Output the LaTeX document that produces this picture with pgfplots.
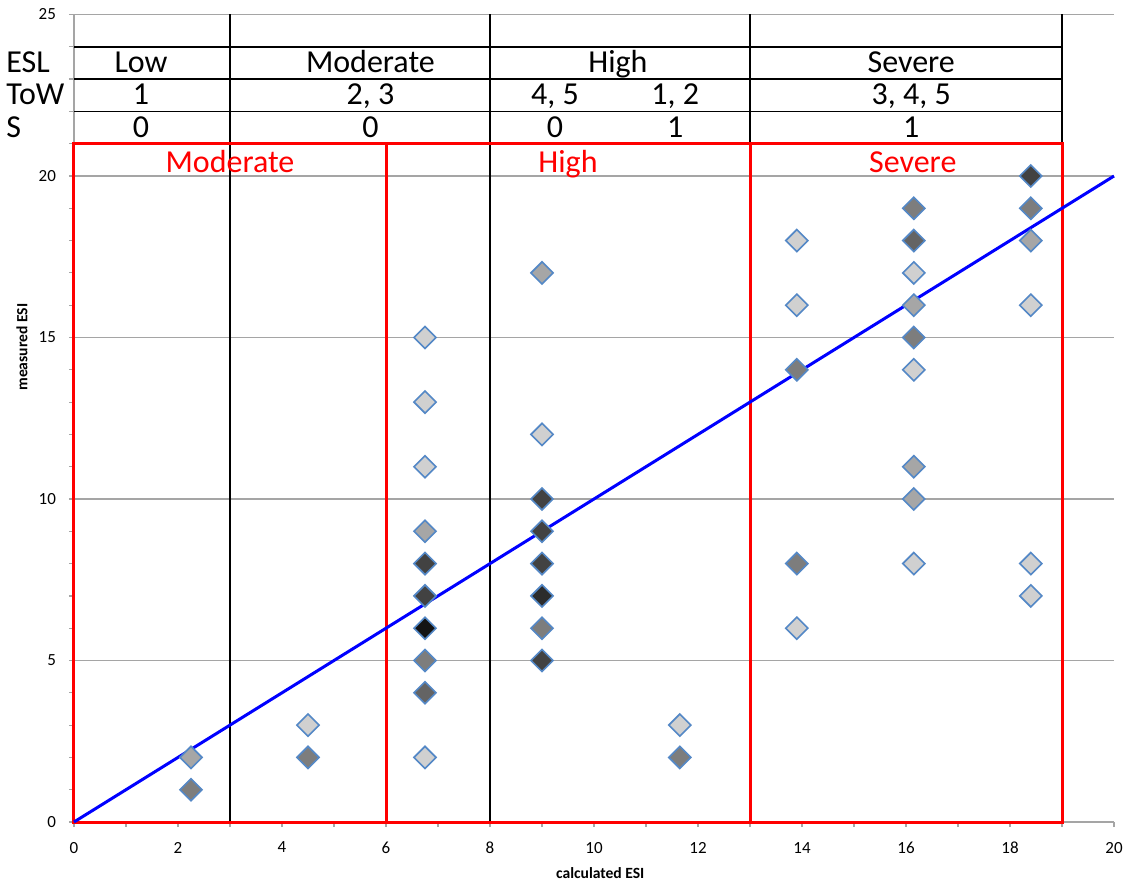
\documentclass[border=0pt]{standalone}
\usepackage{pgfplots}
\pgfplotsset{compat=1.18}
\usepackage{fontspec}
\setmainfont{Carlito}
\definecolor{mkedge}{RGB}{84,136,198}
\definecolor{gridgray}{RGB}{165,165,165}
\definecolor{Lone}{RGB}{208,208,208}
\definecolor{Ltwo}{RGB}{166,166,166}
\definecolor{Lthree}{RGB}{125,125,125}
\definecolor{Lfour}{RGB}{100,100,100}
\definecolor{Lfive}{RGB}{66,66,66}
\definecolor{Lsix}{RGB}{44,44,44}
\definecolor{Lseven}{RGB}{20,20,20}
\newcommand{\tbfont}{\fontsize{16}{18}\selectfont}
\begin{document}
\begin{tikzpicture}
\begin{axis}[name=ax,
  scale only axis, width=520pt, height=403.75pt,
  xmin=0, xmax=20, ymin=0, ymax=25,
  xtick={0,2,...,20}, ytick={0,5,...,25},
  minor x tick num=1, minor y tick num=4,
  tick align=outside, major tick length=2.5pt, minor tick length=2.5pt,
  tick style={gridgray, line width=0.6pt},
  axis x line*=bottom, axis y line*=left,
  axis line style={gridgray, line width=0.8pt, -},
  ymajorgrids, grid style={gridgray, line width=0.8pt},
  /pgf/number format/assume math mode=true,
  ticklabel style={font=\fontsize{8.5}{10}\selectfont, text=black},
  xticklabel style={yshift=-4pt},
  yticklabel style={xshift=-3pt},
  xlabel={calculated ESI}, ylabel={measured ESI},
  label style={font=\fontsize{7.8}{9}\selectfont\bfseries},
  xlabel style={at={(axis description cs:0.506,-0.063)}, anchor=center},
  ylabel style={at={(axis description cs:-0.050,0.588)}, anchor=center},
  clip=false,
  mark size=3.9pt,
  mk/.style={only marks, mark=square*, mark options={rotate=45, draw=mkedge, line width=0.8pt, fill=#1}},
]
% table lines
\draw[black, line width=0.8pt] (axis cs:0,24) -- (axis cs:19,24);
\draw[black, line width=0.8pt] (axis cs:0,23) -- (axis cs:19,23);
\draw[black, line width=0.8pt] (axis cs:0,22) -- (axis cs:19,22);
\draw[black, line width=0.8pt] (axis cs:3,0) -- (axis cs:3,25);
\draw[black, line width=0.8pt] (axis cs:8,0) -- (axis cs:8,25);
\draw[black, line width=0.8pt] (axis cs:13,21) -- (axis cs:13,25);
\draw[black, line width=0.8pt] (axis cs:19,21) -- (axis cs:19,25);
% red boxes
\draw[red, line width=1.5pt] (axis cs:0,0) rectangle (axis cs:6,21);
\draw[red, line width=1.5pt] (axis cs:6,0) rectangle (axis cs:13,21);
\draw[red, line width=1.5pt] (axis cs:13,0) rectangle (axis cs:19,21);
% table text
\node[anchor=base west, inner sep=0pt, font=\tbfont] at (axis cs:-1.31,23.19) {ESL};
\node[anchor=base west, inner sep=0pt, font=\tbfont] at (axis cs:-1.31,22.2) {ToW};
\node[anchor=base west, inner sep=0pt, font=\tbfont] at (axis cs:-1.31,21.2) {S};
\node[anchor=base, font=\tbfont] at (axis cs:1.29,23.19) {Low};
\node[anchor=base, font=\tbfont] at (axis cs:5.7,23.19) {Moderate};
\node[anchor=base, font=\tbfont] at (axis cs:10.46,23.19) {High};
\node[anchor=base, font=\tbfont] at (axis cs:16.1,23.19) {Severe};
\node[anchor=base, font=\tbfont] at (axis cs:1.29,22.2) {1};
\node[anchor=base, font=\tbfont] at (axis cs:5.7,22.2) {2, 3};
\node[anchor=base, font=\tbfont] at (axis cs:9.25,22.2) {4, 5};
\node[anchor=base, font=\tbfont] at (axis cs:11.56,22.2) {1, 2};
\node[anchor=base, font=\tbfont] at (axis cs:16.1,22.2) {3, 4, 5};
\node[anchor=base, font=\tbfont] at (axis cs:1.29,21.2) {0};
\node[anchor=base, font=\tbfont] at (axis cs:5.7,21.2) {0};
\node[anchor=base, font=\tbfont] at (axis cs:9.25,21.2) {0};
\node[anchor=base, font=\tbfont] at (axis cs:11.56,21.2) {1};
\node[anchor=base, font=\tbfont] at (axis cs:16.1,21.2) {1};
\node[anchor=base, font=\tbfont, text=red] at (axis cs:3.0,20.12) {Moderate};
\node[anchor=base, font=\tbfont, text=red] at (axis cs:9.5,20.12) {High};
\node[anchor=base, font=\tbfont, text=red] at (axis cs:16.13,20.12) {Severe};
% data
\addplot[mk=Lone] coordinates {
 (4.5,3) (6.75,15) (6.75,13) (6.75,11) (6.75,2) (9,12) (11.65,3)
 (13.9,18) (13.9,16) (13.9,6) (16.15,17) (16.15,14) (16.15,8)
 (18.4,16) (18.4,8) (18.4,7)};
\addplot[mk=Ltwo] coordinates {
 (2.25,2) (6.75,9) (9,17) (16.15,16) (16.15,11) (16.15,10) (18.4,18)};
\addplot[mk=Lthree] coordinates {
 (2.25,1) (4.5,2) (6.75,5) (9,6) (11.65,2) (13.9,14) (13.9,8)
 (16.15,19) (16.15,15) (18.4,19)};
\addplot[mk=Lfour] coordinates {
 (6.75,4) (16.15,18)};
\addplot[mk=Lfive] coordinates {
 (6.75,8) (6.75,7) (9,10) (9,9) (9,8) (9,5) (18.4,20)};
\addplot[mk=Lsix] coordinates {
 (9,7)};
\addplot[mk=Lseven] coordinates {
 (6.75,6)};
\addplot[blue, line width=1.5pt, no marks, sharp plot] coordinates {(0,0) (20,20)};
\end{axis}
\pgfresetboundingbox
\path ([shift={(-37pt,-31pt)}]ax.south west) rectangle +(564.5pt,442pt);
\end{tikzpicture}
\end{document}
